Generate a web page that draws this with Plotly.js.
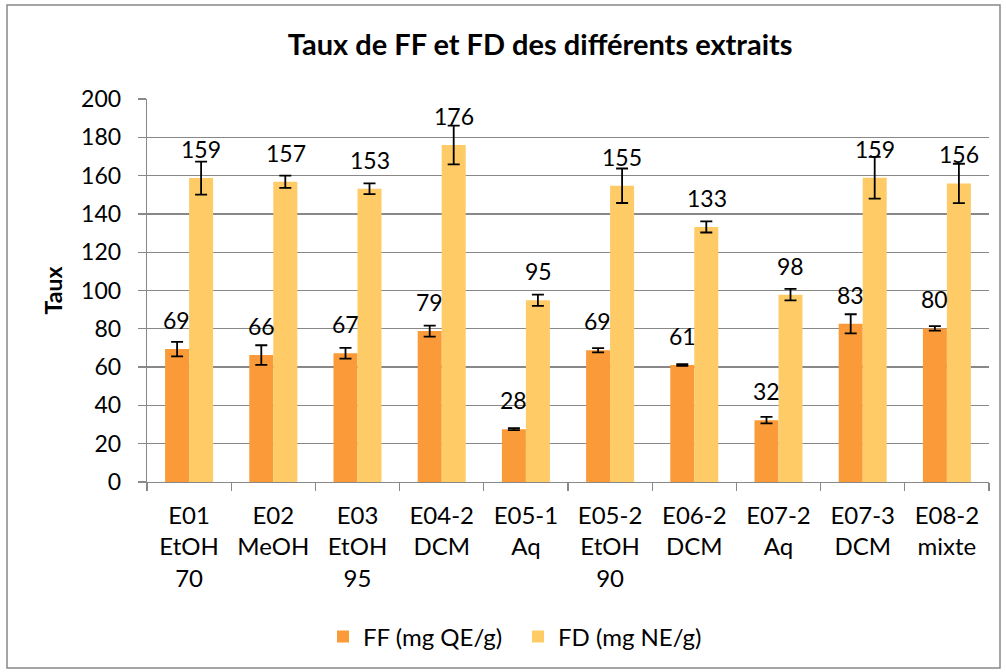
<!DOCTYPE html>
<html>
<head>
<meta charset="utf-8">
<script src="https://cdn.plot.ly/plotly-3.0.1.min.js"></script>
<style>
  html, body { margin: 0; padding: 0; background: #fff; }
  #chart { width: 1006px; height: 672px; }
</style>
</head>
<body>
<div id="chart"></div>
<script>
// ---- Data ----
const categories = [
  "E01<br>EtOH<br>70", "E02<br>MeOH", "E03<br>EtOH<br>95", "E04-2<br>DCM",
  "E05-1<br>Aq", "E05-2<br>EtOH<br>90", "E06-2<br>DCM", "E07-2<br>Aq",
  "E07-3<br>DCM", "E08-2<br>mixte"
];
const seriesNames = ["FF (mg QE/g)", "FD (mg NE/g)"];
const ffValues = [69.4, 66.3, 67.2, 78.8, 27.6, 68.8, 61.1, 32.3, 82.6, 80.2];
const ffErrors = [3.8, 5.1, 2.8, 2.9, 0.5, 1.1, 0.4, 1.7, 5.0, 1.2];
const fdValues = [158.7, 156.8, 153.1, 176.0, 94.9, 154.7, 133.2, 97.8, 158.9, 155.9];
const fdErrors = [8.6, 3.2, 2.8, 10.1, 2.9, 9.0, 2.9, 3.0, 10.9, 10.3];
const yTicks = [0, 20, 40, 60, 80, 100, 120, 140, 160, 180, 200];

const FONT = "Lato, 'Open Sans', sans-serif";
const colors = ["#FB9A38", "#FECB66"];

function barTrace(name, vals, errs, color, offsetgroup) {
  return {
    type: "bar",
    name: name,
    x: categories,
    y: vals,
    offsetgroup: offsetgroup,
    marker: { color: color, line: { width: 0 } },
    error_y: { type: "data", array: errs, visible: true, color: "#000", thickness: 1.8, width: 6 },
    hoverinfo: "skip"
  };
}

const traces = [
  barTrace(seriesNames[0], ffValues, ffErrors, colors[0], "ff"),
  barTrace(seriesNames[1], fdValues, fdErrors, colors[1], "fd")
];

// value labels above bars
const annotations = [];
[[ffValues, -12.2], [fdValues, 12.2]].forEach(([vals, xs]) => {
  vals.forEach((v, i) => {
    annotations.push({
      x: categories[i], y: v, xref: "x", yref: "y",
      text: String(Math.round(v)),
      showarrow: false, xshift: xs, yshift: 13, yanchor: "bottom",
      font: { family: FONT, size: 23, color: "#000" }
    });
  });
});

const layout = {
  width: 1006, height: 672,
  margin: { l: 147, r: 17, t: 99, b: 190, autoexpand: false },
  paper_bgcolor: "#fff", plot_bgcolor: "#fff",
  font: { family: FONT, size: 23, color: "#000" },
  title: {
    text: "<b>Taux de FF et FD des différents extraits</b>",
    font: { family: FONT, size: 29, color: "#000" },
    x: 0.537, xref: "container", xanchor: "center",
    y: 1 - 45 / 672, yref: "container", yanchor: "middle"
  },
  barmode: "group", bargap: 0.43, bargroupgap: 0,
  xaxis: {
    type: "category",
    tickson: "boundaries",
    ticks: "outside", ticklen: 8, tickcolor: "#888", tickwidth: 1.3,
    ticklabelstandoff: 12,
    showline: true, linecolor: "#888", linewidth: 1.3,
    showgrid: false, zeroline: false,
    tickfont: { family: FONT, size: 24, color: "#000" },
    automargin: false, fixedrange: true
  },
  yaxis: {
    range: [0, 200], tickvals: yTicks, ticktext: yTicks.map(String),
    ticks: "outside", ticklen: 8, tickcolor: "#888", tickwidth: 1.3,
    ticklabelstandoff: 12,
    showline: true, linecolor: "#888", linewidth: 1.3,
    showgrid: true, gridcolor: "#888", gridwidth: 1.3,
    zeroline: false,
    tickfont: { family: FONT, size: 23, color: "#000" },
    title: { text: "<b>Taux</b>", font: { family: FONT, size: 23, color: "#000" }, standoff: 12 },
    automargin: false, fixedrange: true
  },
  legend: {
    orientation: "h",
    x: (518 - 147) / 842, xanchor: "center",
    y: (482 - 637) / 383, yanchor: "middle",
    entrywidth: 150, entrywidthmode: "pixels",
    font: { family: FONT, size: 24, color: "#000" },
    itemclick: false, itemdoubleclick: false,
    traceorder: "normal"
  },
  showlegend: true,
  annotations: annotations,
  shapes: [{
    type: "rect", xref: "paper", yref: "paper", layer: "above",
    x0: (7 - 147) / 842, x1: (1000 - 147) / 842,
    y0: (482 - 668) / 383, y1: (482 - 5) / 383,
    line: { color: "#888", width: 1.5 }, fillcolor: "rgba(0,0,0,0)"
  }]
};

Plotly.newPlot("chart", traces, layout, { displayModeBar: false, staticPlot: true });
</script>
</body>
</html>
